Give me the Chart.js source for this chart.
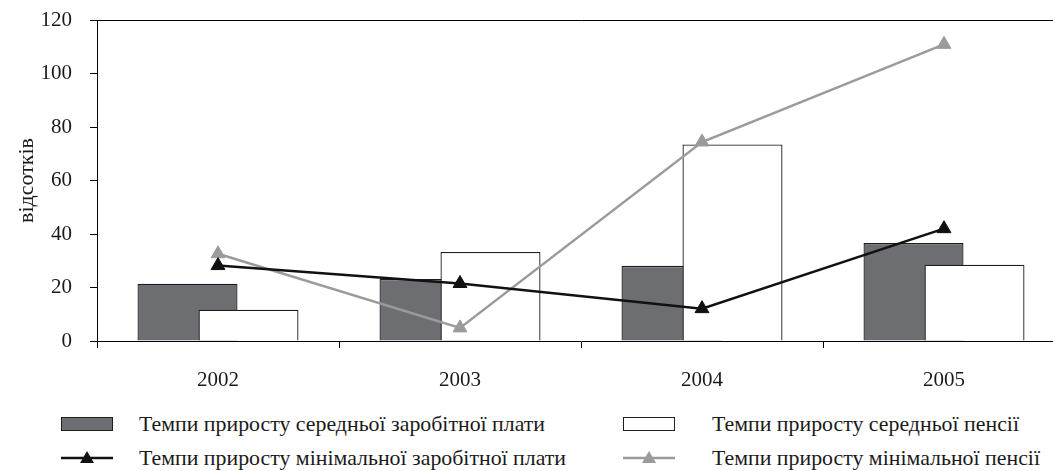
<!DOCTYPE html>
<html>
<head>
<meta charset="utf-8">
<script src="https://cdn.jsdelivr.net/npm/chart.js@4.4.1/dist/chart.umd.min.js"></script>
<style>
  html, body { margin: 0; padding: 0; background: #fff; overflow: hidden; }
  #wrap { position: relative; width: 1053px; height: 471px; overflow: hidden; }
  #chart { position: absolute; left: 0; top: 0; }
  .leg { position: absolute; font-family: 'Liberation Serif', serif; font-size: 21px; color: #1a1a1a; white-space: nowrap; line-height: 24px; transform: scaleX(1.04); transform-origin: left center; }
  .sw { position: absolute; }
</style>
</head>
<body>
<div id="wrap">
  <canvas id="chart" width="1075" height="400"></canvas>
  <div id="legend"></div>
</div>
<script>
// Chart data
const years = ['2002', '2003', '2004', '2005'];
const avgWageGrowth = [21.4, 23.2, 28.1, 36.6];
const avgPensionGrowth = [11.7, 33.3, 73.5, 28.5];
const minWageGrowth = [28.2, 21.5, 12.1, 42.0];
const minPensionGrowth = [32.6, 4.9, 74.4, 110.9];
const yTicks = [0, 20, 40, 60, 80, 100, 120];

const labelAvgWage = 'Темпи приросту середньої заробітної плати';
const labelAvgPension = 'Темпи приросту середньої пенсії';
const labelMinWage = 'Темпи приросту мінімальної заробітної плати';
const labelMinPension = 'Темпи приросту мінімальної пенсії';
const yTitle = 'відсотків';

const FONT = "'Liberation Serif', 'Times New Roman', serif";
const INK = '#1a1a1a';
const DARK_BAR = '#6d6e71';
const BAR_EDGE = '#1e1e1e';
const GREY_LINE = '#9b9b9b';

// Chart.js puts the left bar of a group on top; the reference has the white (right) bar on top.
// Skip the dark bars in their normal turn and paint them just before the white ones.
const barOverlapOrder = {
  id: 'barOverlapOrder',
  beforeDatasetDraw(chart, args) {
    if (args.index === 0) return false;
    if (args.index === 1) chart.getDatasetMeta(0).controller.draw();
  }
};

const ctx = document.getElementById('chart').getContext('2d');

const chart = new Chart(ctx, {
  type: 'bar',
  data: {
    labels: years,
    datasets: [
      {
        label: labelAvgWage,
        data: avgWageGrowth,
        backgroundColor: DARK_BAR,
        borderColor: BAR_EDGE,
        borderWidth: 1.3,
        order: 3
      },
      {
        label: labelAvgPension,
        data: avgPensionGrowth,
        backgroundColor: '#fff',
        borderColor: BAR_EDGE,
        borderWidth: 1.3,
        order: 4
      },
      {
        type: 'line',
        label: labelMinPension,
        data: minPensionGrowth,
        borderColor: GREY_LINE,
        borderWidth: 2.5,
        pointStyle: 'triangle',
        pointRadius: 8,
        pointBackgroundColor: GREY_LINE,
        pointBorderColor: GREY_LINE,
        pointBorderWidth: 1,
        tension: 0,
        order: 1
      },
      {
        type: 'line',
        label: labelMinWage,
        data: minWageGrowth,
        borderColor: '#111',
        borderWidth: 2.5,
        pointStyle: 'triangle',
        pointRadius: 8,
        pointBackgroundColor: '#111',
        pointBorderColor: '#111',
        pointBorderWidth: 1,
        tension: 0,
        order: 0
      }
    ]
  },
  options: {
    responsive: false,
    animation: false,
    categoryPercentage: 0.504,
    barPercentage: 1.64,
    layout: { padding: { top: 20, right: 10, left: 0, bottom: 0 } },
    plugins: {
      legend: { display: false },
      tooltip: { enabled: false }
    },
    scales: {
      x: {
        offset: true,
        border: { color: '#000', width: 1 },
        grid: { offset: true, drawOnChartArea: false, tickColor: '#000', tickLength: 7 },
        ticks: { color: INK, font: { family: FONT, size: 21 }, padding: 20, maxRotation: 0 },
        afterFit: (scale) => { scale.height = 59; }
      },
      y: {
        min: 0,
        max: 120,
        afterBuildTicks: (scale) => { scale.ticks = yTicks.map(v => ({ value: v })); },
        border: { color: '#000', width: 1 },
        grid: {
          color: (c) => (c.tick && c.tick.value === 120 ? '#000' : 'rgba(0,0,0,0)'),
          tickColor: '#000',
          tickLength: 7
        },
        ticks: { color: INK, font: { family: FONT, size: 21 }, padding: 18 },
        title: {
          display: true,
          text: yTitle,
          color: INK,
          font: { family: FONT, size: 22 },
          padding: { top: 14, bottom: 0 }
        },
        afterFit: (scale) => {
          scale.width = 97;
          scale.paddingTop = 0;
          scale.paddingBottom = 0;
        }
      }
    }
  },
  plugins: [barOverlapOrder]
});

// HTML legend in two columns, swatches styled from the datasets
function buildLegend() {
  const legend = document.getElementById('legend');
  const ds = chart.data.datasets;
  const items = [
    { d: ds[0], kind: 'box', sx: 61, tx: 139, y: 424 },
    { d: ds[1], kind: 'box', sx: 623, tx: 712, y: 424 },
    { d: ds[3], kind: 'line', sx: 61, tx: 139, y: 458 },
    { d: ds[2], kind: 'line', sx: 623, tx: 712, y: 458 }
  ];
  items.forEach(it => {
    const sw = document.createElement('canvas');
    sw.className = 'sw';
    sw.width = 54; sw.height = 20;
    sw.style.left = it.sx + 'px';
    sw.style.top = (it.y - 10) + 'px';
    const g = sw.getContext('2d');
    if (it.kind === 'box') {
      g.fillStyle = it.d.backgroundColor;
      g.fillRect(0.5, 3.5, 51, 13);
      g.strokeStyle = it.d.borderColor;
      g.lineWidth = 1;
      g.strokeRect(0.5, 3.5, 51, 13);
    } else {
      g.strokeStyle = it.d.borderColor;
      g.lineWidth = it.d.borderWidth;
      g.beginPath(); g.moveTo(0, 10); g.lineTo(52, 10); g.stroke();
      g.fillStyle = it.d.pointBackgroundColor;
      g.beginPath(); g.moveTo(26, 3); g.lineTo(33, 15); g.lineTo(19, 15); g.closePath(); g.fill();
    }
    legend.appendChild(sw);

    const t = document.createElement('div');
    t.className = 'leg';
    t.textContent = it.d.label;
    t.style.left = it.tx + 'px';
    t.style.top = (it.y - 12) + 'px';
    legend.appendChild(t);
  });
}
buildLegend();
</script>
</body>
</html>
